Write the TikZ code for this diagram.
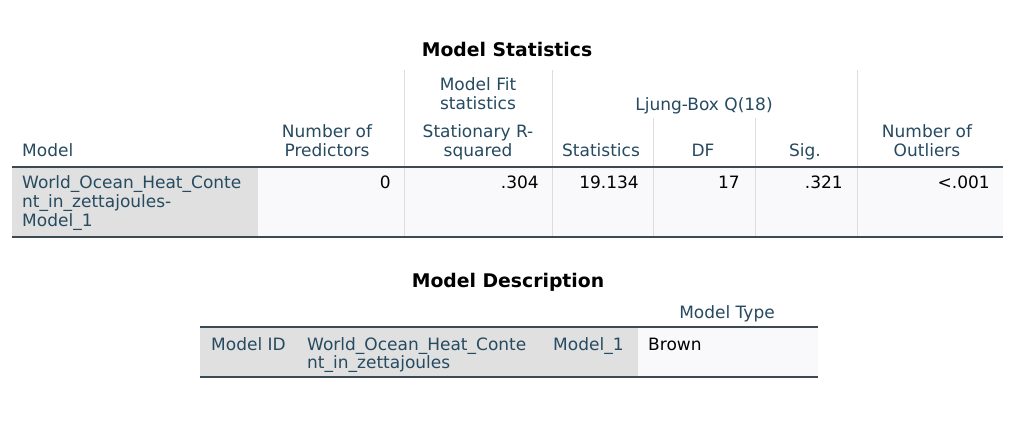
\documentclass[tikz,border=0pt]{standalone}
\usepackage{fontspec}
\setmainfont{DejaVu Sans}
\usepackage{xcolor}
\usepackage{tikz}

\definecolor{hdrblue}{HTML}{264A60}
\definecolor{rulegray}{HTML}{3C4A54}
\definecolor{cellgray}{HTML}{E0E0E0}
\definecolor{cellwhite}{HTML}{F9F9FB}
\definecolor{linegray}{HTML}{DDDDDD}

\begin{document}
\begin{tikzpicture}[x=1pt, y=-1pt,
    ttl/.style={font=\fontsize{18.8}{22}\selectfont\bfseries, anchor=base, inner sep=0pt},
    hdr/.style={font=\fontsize{17}{19}\selectfont, text=hdrblue, align=center, anchor=base, inner sep=0pt},
    lbl/.style={font=\fontsize{17}{18.5}\selectfont, text=hdrblue, align=left, anchor=base west, inner sep=0pt},
    val/.style={font=\fontsize{17}{18.5}\selectfont, anchor=base east, inner sep=0pt},
    hrule/.style={draw=rulegray, line width=1.6pt},
    vline/.style={draw=linegray, line width=0.8pt}]
    \useasboundingbox[fill=white] (0,0) rectangle (1024,438);

    % Model Statistics
    \node[ttl] (statsttl) at (507,57) {Model Statistics};
    \fill[cellwhite] (258,168) rectangle (1003,236);
    \fill[cellgray] (12,168) rectangle (258,236);
    \foreach \x in {404,552,857}
        \draw[vline] (\x,70) -- (\x,166);
    \foreach \x in {653,755}
        \draw[vline] (\x,118) -- (\x,166);
    \foreach \x in {404,552,653,755,857}
        \draw[vline] (\x,168) -- (\x,236);
    \draw[hrule] (12,167) -- (1003,167);
    \draw[hrule] (12,237) -- (1003,237);

    % multi-line nodes sit on their last line
    \node[hdr, anchor=base west] (hmodel) at (22,157) {Model};
    \node[hdr] (hpred) at (327,157) {Number of\\Predictors};
    \node[hdr] (hfit) at (478,110) {Model Fit\\statistics};
    \node[hdr] (hrsq) at (478,157) {Stationary R-\\squared};
    \node[hdr] (hljung) at (704,111) {Ljung-Box Q(18)};
    \node[hdr] (hstat) at (601,157) {Statistics};
    \node[hdr] (hdf) at (703,157) {DF};
    \node[hdr] (hsig) at (805,157) {Sig.};
    \node[hdr] (hout) at (927,157) {Number of\\Outliers};

    \node[lbl] (rowname) at (22,226) {World\_Ocean\_Heat\_Conte\\nt\_in\_zettajoules-\\Model\_1};
    \node[val] (vpred) at (391,189) {0};
    \node[val] (vrsq) at (539,189) {.304};
    \node[val] (vstat) at (639,189) {19.134};
    \node[val] (vdf) at (740,189) {17};
    \node[val] (vsig) at (843,189) {.321};
    \node[val] (vout) at (990,189) {<.001};

    % Model Description
    \node[ttl] (descttl) at (508,287) {Model Description};
    \fill[cellgray] (200,328) rectangle (638,376);
    \fill[cellwhite] (638,328) rectangle (818,376);
    \draw[hrule] (200,327) -- (818,327);
    \draw[hrule] (200,377) -- (818,377);

    \node[hdr] (htype) at (727,318) {Model Type};
    \node[lbl] (mid) at (211,350) {Model ID};
    \node[lbl] (mname) at (307,368.5) {World\_Ocean\_Heat\_Conte\\nt\_in\_zettajoules};
    \node[lbl] (mmodel) at (553,350) {Model\_1};
    \node[val, anchor=base west] (mtype) at (648,350) {Brown};
\end{tikzpicture}
\end{document}
